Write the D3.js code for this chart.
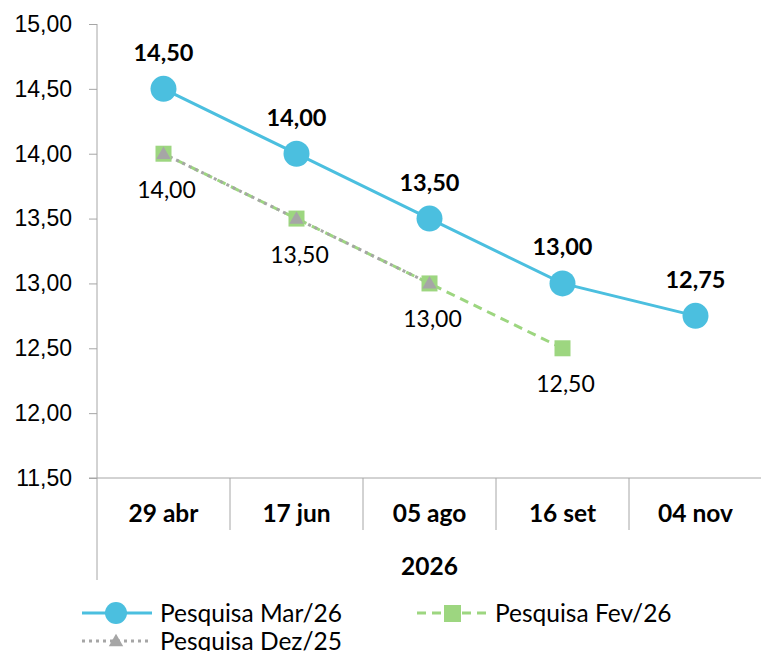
<!DOCTYPE html>
<html>
<head>
<meta charset="utf-8">
<script src="https://cdn.jsdelivr.net/npm/d3@7"></script>
<style>
    body { margin: 0; background: #fff; overflow: hidden; }
    svg { font-family: Lato, "Open Sans", sans-serif; display: block; }
    .axis path, .axis line { stroke: #a6a6a6; }
</style>
</head>
<body>
<script>
(function () {
    //chart data
    var categories = ["29 abr", "17 jun", "05 ago", "16 set", "04 nov"];
    var groupLabel = "2026";
    var yTicks = [11.5, 12, 12.5, 13, 13.5, 14, 14.5, 15];
    var mar26 = [14.50, 14.00, 13.50, 13.00, 12.75];
    var fev26 = [14.00, 13.50, 13.00, 12.50];
    var dez25 = [14.00, 13.50, 13.00];
    var seriesNames = ["Pesquisa Mar/26", "Pesquisa Fev/26", "Pesquisa Dez/25"];

    var width = 761, height = 651;
    var blue = "#4bbfdf", green = "#9dd680", grey = "#a6a6a6";

    var svg = d3.select("body").append("svg")
        .attr("width", width)
        .attr("height", height);

    var x = d3.scaleBand()
        .domain(categories)
        .range([97, 762]);
    var y = d3.scaleLinear()
        .domain([11.5, 15])
        .range([478, 24]);

    var fmt = d3.formatLocale({ decimal: ",", thousands: ".", grouping: [3], currency: ["", ""] }).format(".2f");

    //y axis
    var yAxis = svg.append("g")
        .attr("class", "axis")
        .attr("transform", "translate(97,0)")
        .call(d3.axisLeft(y).tickValues(yTicks).tickFormat(fmt).tickSize(8).tickPadding(17));
    yAxis.select(".domain").remove();
    yAxis.selectAll("text")
        .attr("fill", "#000")
        .style("font-size", "23px");

    //left axis line extends down through the category area
    svg.append("line")
        .attr("x1", 97).attr("x2", 97)
        .attr("y1", 24).attr("y2", 580)
        .attr("stroke", grey);

    //x axis baseline
    svg.append("line")
        .attr("x1", 89).attr("x2", 762)
        .attr("y1", y(11.5)).attr("y2", y(11.5))
        .attr("stroke", grey);

    //category dividers
    svg.selectAll(".divider")
        .data(categories.slice(1))
        .enter()
        .append("line")
        .attr("class", "divider")
        .attr("x1", function (d) { return x(d); })
        .attr("x2", function (d) { return x(d); })
        .attr("y1", y(11.5))
        .attr("y2", 530)
        .attr("stroke", grey);

    //category labels
    svg.selectAll(".cat")
        .data(categories)
        .enter()
        .append("text")
        .attr("class", "cat")
        .attr("x", function (d) { return x(d) + x.bandwidth() / 2; })
        .attr("y", 522)
        .attr("text-anchor", "middle")
        .style("font-size", "24.5px")
        .style("font-weight", "bold")
        .text(function (d) { return d; });

    svg.append("text")
        .attr("x", (97 + 762) / 2)
        .attr("y", 575)
        .attr("text-anchor", "middle")
        .style("font-size", "24.5px")
        .style("font-weight", "bold")
        .text(groupLabel);

    function cx(i) { return x(categories[i]) + x.bandwidth() / 2; }

    var line = d3.line()
        .x(function (d, i) { return cx(i); })
        .y(function (d) { return y(d); });

    //green dashed series
    svg.append("path")
        .datum(fev26)
        .attr("d", line)
        .attr("fill", "none")
        .attr("stroke", green)
        .attr("stroke-width", 3)
        .attr("stroke-dasharray", "9,6");

    //grey dotted series
    svg.append("path")
        .datum(dez25)
        .attr("d", line)
        .attr("fill", "none")
        .attr("stroke", grey)
        .attr("stroke-width", 3)
        .attr("stroke-dasharray", "3,4");

    //blue series
    svg.append("path")
        .datum(mar26)
        .attr("d", line)
        .attr("fill", "none")
        .attr("stroke", blue)
        .attr("stroke-width", 3);

    //square markers
    svg.selectAll(".sq")
        .data(fev26)
        .enter()
        .append("rect")
        .attr("class", "sq")
        .attr("x", function (d, i) { return cx(i) - 8; })
        .attr("y", function (d) { return y(d) - 8; })
        .attr("width", 16)
        .attr("height", 16)
        .attr("fill", green);

    //triangle markers
    var tri = d3.symbol().type(d3.symbolTriangle).size(90);
    svg.selectAll(".tri")
        .data(dez25)
        .enter()
        .append("path")
        .attr("class", "tri")
        .attr("d", tri)
        .attr("transform", function (d, i) { return "translate(" + cx(i) + "," + (y(d) + 1) + ")"; })
        .attr("fill", grey);

    //circle markers
    svg.selectAll(".dot")
        .data(mar26)
        .enter()
        .append("circle")
        .attr("class", "dot")
        .attr("cx", function (d, i) { return cx(i); })
        .attr("cy", function (d) { return y(d); })
        .attr("r", 13)
        .attr("fill", blue);

    //labels above blue series
    svg.selectAll(".lblTop")
        .data(mar26)
        .enter()
        .append("text")
        .attr("class", "lblTop")
        .attr("x", function (d, i) { return cx(i); })
        .attr("y", function (d) { return y(d) - 28; })
        .attr("text-anchor", "middle")
        .style("font-size", "23.5px")
        .style("font-weight", "bold")
        .text(function (d) { return fmt(d); });

    //labels below green series
    svg.selectAll(".lblBot")
        .data(fev26)
        .enter()
        .append("text")
        .attr("class", "lblBot")
        .attr("x", function (d, i) { return cx(i) + 3; })
        .attr("y", function (d) { return y(d) + 44; })
        .attr("text-anchor", "middle")
        .style("font-size", "23px")
        .text(function (d) { return fmt(d); });

    //legend
    var legend = svg.append("g");
    var items = [
        { name: seriesNames[0], color: blue, dash: null, x0: 82, y0: 613, marker: "circle" },
        { name: seriesNames[1], color: green, dash: "9,6", x0: 417, y0: 613, marker: "square" },
        { name: seriesNames[2], color: grey, dash: "3,4", x0: 82, y0: 641, marker: "triangle" }
    ];
    items.forEach(function (it) {
        var g = legend.append("g").attr("transform", "translate(" + it.x0 + "," + it.y0 + ")");
        g.append("line")
            .attr("x1", 0).attr("x2", 70)
            .attr("stroke", it.color)
            .attr("stroke-width", 3)
            .attr("stroke-dasharray", it.dash);
        if (it.marker == "circle") {
            g.append("circle").attr("cx", 34).attr("r", 11).attr("fill", it.color);
        } else if (it.marker == "square") {
            g.append("rect").attr("x", 27).attr("y", -8).attr("width", 17).attr("height", 17).attr("fill", it.color);
        } else {
            g.append("path").attr("d", tri).attr("transform", "translate(34,1)").attr("fill", it.color);
        }
        g.append("text")
            .attr("x", 78)
            .attr("y", 9)
            .style("font-size", "24.5px")
            .text(it.name);
    });
})();
</script>
</body>
</html>
